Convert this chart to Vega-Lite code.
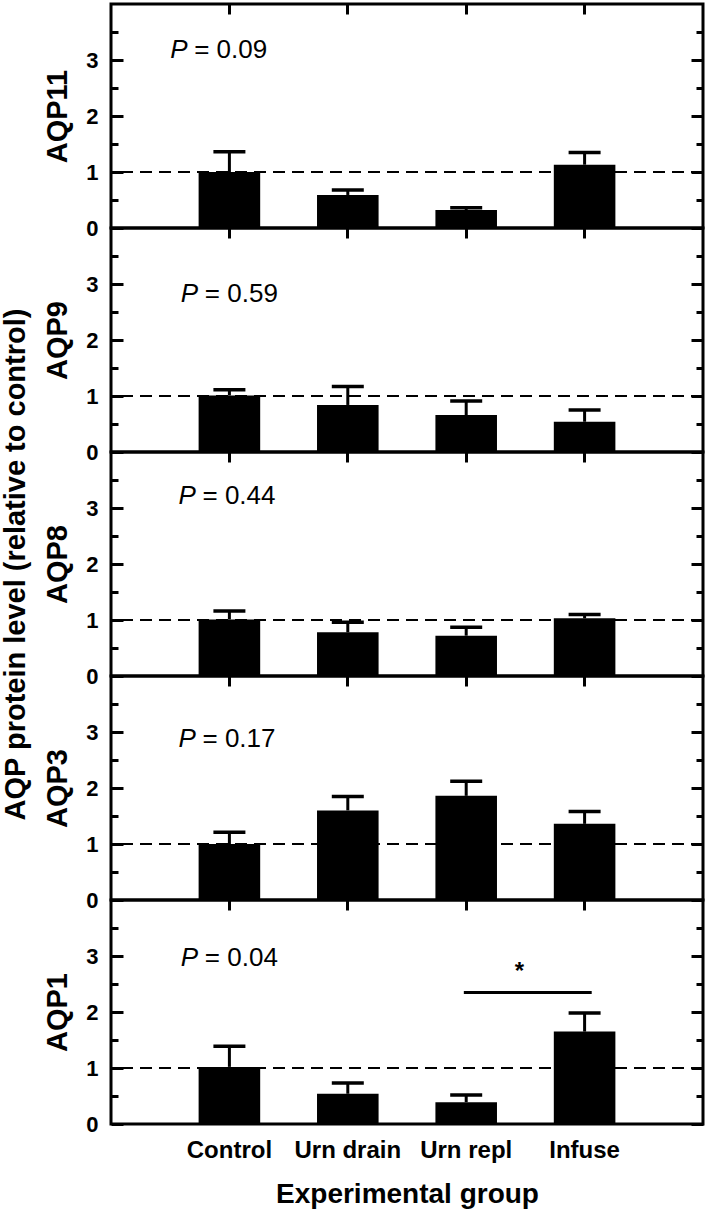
{
  "$schema": "https://vega.github.io/schema/vega-lite/v6.json",
  "padding": {"left": 0, "top": 1, "right": 2, "bottom": 2},
  "background": "white",
  "spacing": 0,
  "bounds": "flush",
  "config": {
    "font": "Liberation Sans",
    "view": {"stroke": "black", "strokeWidth": 3},
    "axis": {"domain": false, "grid": false, "zindex": 1, "labelFont": "Liberation Sans", "titleFont": "Liberation Sans", "labelColor": "black", "titleColor": "black", "tickColor": "black", "tickWidth": 3}
  },
  "datasets": {
    "bars": [
      {"protein": "AQP11", "group": "Control", "mean": 1.00, "upper": 1.36},
      {"protein": "AQP11", "group": "Urn drain", "mean": 0.59, "upper": 0.68},
      {"protein": "AQP11", "group": "Urn repl", "mean": 0.32, "upper": 0.36},
      {"protein": "AQP11", "group": "Infuse", "mean": 1.13, "upper": 1.35},
      {"protein": "AQP9", "group": "Control", "mean": 1.01, "upper": 1.11},
      {"protein": "AQP9", "group": "Urn drain", "mean": 0.84, "upper": 1.17},
      {"protein": "AQP9", "group": "Urn repl", "mean": 0.66, "upper": 0.91},
      {"protein": "AQP9", "group": "Infuse", "mean": 0.54, "upper": 0.75},
      {"protein": "AQP8", "group": "Control", "mean": 1.01, "upper": 1.16},
      {"protein": "AQP8", "group": "Urn drain", "mean": 0.78, "upper": 0.96},
      {"protein": "AQP8", "group": "Urn repl", "mean": 0.72, "upper": 0.87},
      {"protein": "AQP8", "group": "Infuse", "mean": 1.03, "upper": 1.10},
      {"protein": "AQP3", "group": "Control", "mean": 1.00, "upper": 1.21},
      {"protein": "AQP3", "group": "Urn drain", "mean": 1.60, "upper": 1.85},
      {"protein": "AQP3", "group": "Urn repl", "mean": 1.86, "upper": 2.12},
      {"protein": "AQP3", "group": "Infuse", "mean": 1.36, "upper": 1.58},
      {"protein": "AQP1", "group": "Control", "mean": 1.02, "upper": 1.39},
      {"protein": "AQP1", "group": "Urn drain", "mean": 0.54, "upper": 0.73},
      {"protein": "AQP1", "group": "Urn repl", "mean": 0.39, "upper": 0.52},
      {"protein": "AQP1", "group": "Infuse", "mean": 1.65, "upper": 1.98}
    ],
    "pvals": [
      {"protein": "AQP11", "px": 0.50, "py": 3.17, "p": "P", "label": "= 0.09"},
      {"protein": "AQP9", "px": 0.59, "py": 2.82, "p": "P", "label": "= 0.59"},
      {"protein": "AQP8", "px": 0.57, "py": 3.21, "p": "P", "label": "= 0.44"},
      {"protein": "AQP3", "px": 0.57, "py": 2.88, "p": "P", "label": "= 0.17"},
      {"protein": "AQP1", "px": 0.59, "py": 2.96, "p": "P", "label": "= 0.04"}
    ],
    "sig": [
      {"protein": "AQP1", "x1": 2.98, "x2": 4.06, "y": 2.35, "sx": 3.45, "sy": 2.72, "star": "*"}
    ]
  },
  "vconcat": [
    {
      "width": 592, "height": 224,
      "resolve": {"scale": {"x": "independent"}, "axis": {"x": "independent", "y": "independent"}},
      "layer": [
        {"data": {"name": "bars"}, "transform": [{"filter": {"field": "protein", "equal": "AQP11"}}],
         "mark": {"type": "rule", "strokeDash": [12, 7], "strokeWidth": 2, "color": "black"},
         "encoding": {"y": {"datum": 1, "type": "quantitative", "scale": {"domain": [0, 4], "nice": false}, "axis": null}}},
        {"data": {"name": "bars"}, "transform": [{"filter": {"field": "protein", "equal": "AQP11"}}],
         "mark": {"type": "bar", "color": "black"},
         "encoding": {
           "x": {"field": "group", "type": "nominal", "sort": null, "scale": {"domain": ["Control", "Urn drain", "Urn repl", "Infuse"], "paddingInner": 0.48, "paddingOuter": 0.74}, "axis": null},
           "y": {"field": "mean", "type": "quantitative", "scale": {"domain": [0, 4], "nice": false},
                 "axis": {"orient": "left", "title": "AQP11", "titleFontSize": 29, "titleFontWeight": "bold", "titlePadding": 13, "values": [0, 1, 2, 3], "labelFontSize": 22, "labelFontWeight": "bold", "labelPadding": 13, "offset": -12, "tickSize": 12}}}},
        {"data": {"name": "bars"}, "transform": [{"filter": {"field": "protein", "equal": "AQP11"}}],
         "mark": {"type": "rule", "strokeWidth": 3, "color": "black"},
         "encoding": {
           "x": {"field": "group", "type": "nominal", "sort": null, "scale": {"domain": ["Control", "Urn drain", "Urn repl", "Infuse"], "paddingInner": 0.48, "paddingOuter": 0.74}, "axis": {"orient": "top", "labels": false, "title": null, "offset": -10, "tickSize": 10}},
           "y": {"field": "mean", "type": "quantitative", "axis": {"orient": "right", "labels": false, "title": null, "values": [0, 1, 2, 3], "offset": -12, "tickSize": 12}},
           "y2": {"field": "upper"}}},
        {"data": {"name": "bars"}, "transform": [{"filter": {"field": "protein", "equal": "AQP11"}}],
         "mark": {"type": "tick", "thickness": 3.5, "color": "black", "opacity": 1},
         "encoding": {
           "x": {"field": "group", "type": "nominal", "sort": null, "scale": {"domain": ["Control", "Urn drain", "Urn repl", "Infuse"], "paddingInner": 0.48, "paddingOuter": 0.74}, "axis": null},
           "y": {"field": "upper", "type": "quantitative", "axis": {"orient": "left", "labels": false, "title": null, "values": [0.5, 1.5, 2.5, 3.5], "offset": -7, "tickSize": 7}},
           "size": {"value": 32}}},
        {"data": {"name": "pvals"}, "transform": [{"filter": {"field": "protein", "equal": "AQP11"}}],
         "mark": {"type": "text", "align": "left", "baseline": "middle", "fontSize": 26, "fontStyle": "italic", "color": "black"},
         "encoding": {
           "x": {"field": "px", "type": "quantitative", "scale": {"domain": [0, 5], "nice": false, "zero": false}, "axis": null},
           "y": {"field": "py", "type": "quantitative", "axis": {"orient": "right", "labels": false, "title": null, "values": [0.5, 1.5, 2.5, 3.5], "offset": -7, "tickSize": 7}},
           "text": {"field": "p"}}},
        {"data": {"name": "pvals"}, "transform": [{"filter": {"field": "protein", "equal": "AQP11"}}],
         "mark": {"type": "text", "align": "left", "baseline": "middle", "fontSize": 26, "dx": 24, "color": "black"},
         "encoding": {
           "x": {"field": "px", "type": "quantitative", "scale": {"domain": [0, 5], "nice": false, "zero": false}, "axis": null},
           "y": {"field": "py", "type": "quantitative", "axis": null},
           "text": {"field": "label"}}}
      ]
    },
    {
      "width": 592, "height": 224,
      "resolve": {"scale": {"x": "independent"}, "axis": {"x": "independent", "y": "independent"}},
      "layer": [
        {"data": {"name": "bars"}, "transform": [{"filter": {"field": "protein", "equal": "AQP9"}}],
         "mark": {"type": "rule", "strokeDash": [12, 7], "strokeWidth": 2, "color": "black"},
         "encoding": {"y": {"datum": 1, "type": "quantitative", "scale": {"domain": [0, 4], "nice": false}, "axis": null}}},
        {"data": {"name": "bars"}, "transform": [{"filter": {"field": "protein", "equal": "AQP9"}}],
         "mark": {"type": "bar", "color": "black"},
         "encoding": {
           "x": {"field": "group", "type": "nominal", "sort": null, "scale": {"domain": ["Control", "Urn drain", "Urn repl", "Infuse"], "paddingInner": 0.48, "paddingOuter": 0.74}, "axis": null},
           "y": {"field": "mean", "type": "quantitative", "scale": {"domain": [0, 4], "nice": false},
                 "axis": {"orient": "left", "title": "AQP9", "titleFontSize": 29, "titleFontWeight": "bold", "titlePadding": 13, "values": [0, 1, 2, 3], "labelFontSize": 22, "labelFontWeight": "bold", "labelPadding": 13, "offset": -12, "tickSize": 12}}}},
        {"data": {"name": "bars"}, "transform": [{"filter": {"field": "protein", "equal": "AQP9"}}],
         "mark": {"type": "rule", "strokeWidth": 3, "color": "black"},
         "encoding": {
           "x": {"field": "group", "type": "nominal", "sort": null, "scale": {"domain": ["Control", "Urn drain", "Urn repl", "Infuse"], "paddingInner": 0.48, "paddingOuter": 0.74}, "axis": {"orient": "top", "labels": false, "title": null, "offset": -10, "tickSize": 10}},
           "y": {"field": "mean", "type": "quantitative", "axis": {"orient": "right", "labels": false, "title": null, "values": [0, 1, 2, 3], "offset": -12, "tickSize": 12}},
           "y2": {"field": "upper"}}},
        {"data": {"name": "bars"}, "transform": [{"filter": {"field": "protein", "equal": "AQP9"}}],
         "mark": {"type": "tick", "thickness": 3.5, "color": "black", "opacity": 1},
         "encoding": {
           "x": {"field": "group", "type": "nominal", "sort": null, "scale": {"domain": ["Control", "Urn drain", "Urn repl", "Infuse"], "paddingInner": 0.48, "paddingOuter": 0.74}, "axis": null},
           "y": {"field": "upper", "type": "quantitative", "axis": {"orient": "left", "labels": false, "title": null, "values": [0.5, 1.5, 2.5, 3.5], "offset": -7, "tickSize": 7}},
           "size": {"value": 32}}},
        {"data": {"name": "pvals"}, "transform": [{"filter": {"field": "protein", "equal": "AQP9"}}],
         "mark": {"type": "text", "align": "left", "baseline": "middle", "fontSize": 26, "fontStyle": "italic", "color": "black"},
         "encoding": {
           "x": {"field": "px", "type": "quantitative", "scale": {"domain": [0, 5], "nice": false, "zero": false}, "axis": null},
           "y": {"field": "py", "type": "quantitative", "axis": {"orient": "right", "labels": false, "title": null, "values": [0.5, 1.5, 2.5, 3.5], "offset": -7, "tickSize": 7}},
           "text": {"field": "p"}}},
        {"data": {"name": "pvals"}, "transform": [{"filter": {"field": "protein", "equal": "AQP9"}}],
         "mark": {"type": "text", "align": "left", "baseline": "middle", "fontSize": 26, "dx": 24, "color": "black"},
         "encoding": {
           "x": {"field": "px", "type": "quantitative", "scale": {"domain": [0, 5], "nice": false, "zero": false}, "axis": null},
           "y": {"field": "py", "type": "quantitative", "axis": null},
           "text": {"field": "label"}}}
      ]
    },
    {
      "width": 592, "height": 224,
      "resolve": {"scale": {"x": "independent"}, "axis": {"x": "independent", "y": "independent"}},
      "layer": [
        {"data": {"name": "bars"}, "transform": [{"filter": {"field": "protein", "equal": "AQP8"}}],
         "mark": {"type": "rule", "strokeDash": [12, 7], "strokeWidth": 2, "color": "black"},
         "encoding": {"y": {"datum": 1, "type": "quantitative", "scale": {"domain": [0, 4], "nice": false}, "axis": null}}},
        {"data": {"name": "bars"}, "transform": [{"filter": {"field": "protein", "equal": "AQP8"}}],
         "mark": {"type": "bar", "color": "black"},
         "encoding": {
           "x": {"field": "group", "type": "nominal", "sort": null, "scale": {"domain": ["Control", "Urn drain", "Urn repl", "Infuse"], "paddingInner": 0.48, "paddingOuter": 0.74}, "axis": null},
           "y": {"field": "mean", "type": "quantitative", "scale": {"domain": [0, 4], "nice": false},
                 "axis": {"orient": "left", "title": ["AQP protein level (relative to control)", "AQP8"], "titleLineHeight": 42, "titleFontSize": 29, "titleFontWeight": "bold", "titlePadding": 13, "values": [0, 1, 2, 3], "labelFontSize": 22, "labelFontWeight": "bold", "labelPadding": 13, "offset": -12, "tickSize": 12}}}},
        {"data": {"name": "bars"}, "transform": [{"filter": {"field": "protein", "equal": "AQP8"}}],
         "mark": {"type": "rule", "strokeWidth": 3, "color": "black"},
         "encoding": {
           "x": {"field": "group", "type": "nominal", "sort": null, "scale": {"domain": ["Control", "Urn drain", "Urn repl", "Infuse"], "paddingInner": 0.48, "paddingOuter": 0.74}, "axis": {"orient": "top", "labels": false, "title": null, "offset": -10, "tickSize": 10}},
           "y": {"field": "mean", "type": "quantitative", "axis": {"orient": "right", "labels": false, "title": null, "values": [0, 1, 2, 3], "offset": -12, "tickSize": 12}},
           "y2": {"field": "upper"}}},
        {"data": {"name": "bars"}, "transform": [{"filter": {"field": "protein", "equal": "AQP8"}}],
         "mark": {"type": "tick", "thickness": 3.5, "color": "black", "opacity": 1},
         "encoding": {
           "x": {"field": "group", "type": "nominal", "sort": null, "scale": {"domain": ["Control", "Urn drain", "Urn repl", "Infuse"], "paddingInner": 0.48, "paddingOuter": 0.74}, "axis": null},
           "y": {"field": "upper", "type": "quantitative", "axis": {"orient": "left", "labels": false, "title": null, "values": [0.5, 1.5, 2.5, 3.5], "offset": -7, "tickSize": 7}},
           "size": {"value": 32}}},
        {"data": {"name": "pvals"}, "transform": [{"filter": {"field": "protein", "equal": "AQP8"}}],
         "mark": {"type": "text", "align": "left", "baseline": "middle", "fontSize": 26, "fontStyle": "italic", "color": "black"},
         "encoding": {
           "x": {"field": "px", "type": "quantitative", "scale": {"domain": [0, 5], "nice": false, "zero": false}, "axis": null},
           "y": {"field": "py", "type": "quantitative", "axis": {"orient": "right", "labels": false, "title": null, "values": [0.5, 1.5, 2.5, 3.5], "offset": -7, "tickSize": 7}},
           "text": {"field": "p"}}},
        {"data": {"name": "pvals"}, "transform": [{"filter": {"field": "protein", "equal": "AQP8"}}],
         "mark": {"type": "text", "align": "left", "baseline": "middle", "fontSize": 26, "dx": 24, "color": "black"},
         "encoding": {
           "x": {"field": "px", "type": "quantitative", "scale": {"domain": [0, 5], "nice": false, "zero": false}, "axis": null},
           "y": {"field": "py", "type": "quantitative", "axis": null},
           "text": {"field": "label"}}}
      ]
    },
    {
      "width": 592, "height": 224,
      "resolve": {"scale": {"x": "independent"}, "axis": {"x": "independent", "y": "independent"}},
      "layer": [
        {"data": {"name": "bars"}, "transform": [{"filter": {"field": "protein", "equal": "AQP3"}}],
         "mark": {"type": "rule", "strokeDash": [12, 7], "strokeWidth": 2, "color": "black"},
         "encoding": {"y": {"datum": 1, "type": "quantitative", "scale": {"domain": [0, 4], "nice": false}, "axis": null}}},
        {"data": {"name": "bars"}, "transform": [{"filter": {"field": "protein", "equal": "AQP3"}}],
         "mark": {"type": "bar", "color": "black"},
         "encoding": {
           "x": {"field": "group", "type": "nominal", "sort": null, "scale": {"domain": ["Control", "Urn drain", "Urn repl", "Infuse"], "paddingInner": 0.48, "paddingOuter": 0.74}, "axis": null},
           "y": {"field": "mean", "type": "quantitative", "scale": {"domain": [0, 4], "nice": false},
                 "axis": {"orient": "left", "title": "AQP3", "titleFontSize": 29, "titleFontWeight": "bold", "titlePadding": 13, "values": [0, 1, 2, 3], "labelFontSize": 22, "labelFontWeight": "bold", "labelPadding": 13, "offset": -12, "tickSize": 12}}}},
        {"data": {"name": "bars"}, "transform": [{"filter": {"field": "protein", "equal": "AQP3"}}],
         "mark": {"type": "rule", "strokeWidth": 3, "color": "black"},
         "encoding": {
           "x": {"field": "group", "type": "nominal", "sort": null, "scale": {"domain": ["Control", "Urn drain", "Urn repl", "Infuse"], "paddingInner": 0.48, "paddingOuter": 0.74}, "axis": {"orient": "top", "labels": false, "title": null, "offset": -10, "tickSize": 10}},
           "y": {"field": "mean", "type": "quantitative", "axis": {"orient": "right", "labels": false, "title": null, "values": [0, 1, 2, 3], "offset": -12, "tickSize": 12}},
           "y2": {"field": "upper"}}},
        {"data": {"name": "bars"}, "transform": [{"filter": {"field": "protein", "equal": "AQP3"}}],
         "mark": {"type": "tick", "thickness": 3.5, "color": "black", "opacity": 1},
         "encoding": {
           "x": {"field": "group", "type": "nominal", "sort": null, "scale": {"domain": ["Control", "Urn drain", "Urn repl", "Infuse"], "paddingInner": 0.48, "paddingOuter": 0.74}, "axis": null},
           "y": {"field": "upper", "type": "quantitative", "axis": {"orient": "left", "labels": false, "title": null, "values": [0.5, 1.5, 2.5, 3.5], "offset": -7, "tickSize": 7}},
           "size": {"value": 32}}},
        {"data": {"name": "pvals"}, "transform": [{"filter": {"field": "protein", "equal": "AQP3"}}],
         "mark": {"type": "text", "align": "left", "baseline": "middle", "fontSize": 26, "fontStyle": "italic", "color": "black"},
         "encoding": {
           "x": {"field": "px", "type": "quantitative", "scale": {"domain": [0, 5], "nice": false, "zero": false}, "axis": null},
           "y": {"field": "py", "type": "quantitative", "axis": {"orient": "right", "labels": false, "title": null, "values": [0.5, 1.5, 2.5, 3.5], "offset": -7, "tickSize": 7}},
           "text": {"field": "p"}}},
        {"data": {"name": "pvals"}, "transform": [{"filter": {"field": "protein", "equal": "AQP3"}}],
         "mark": {"type": "text", "align": "left", "baseline": "middle", "fontSize": 26, "dx": 24, "color": "black"},
         "encoding": {
           "x": {"field": "px", "type": "quantitative", "scale": {"domain": [0, 5], "nice": false, "zero": false}, "axis": null},
           "y": {"field": "py", "type": "quantitative", "axis": null},
           "text": {"field": "label"}}}
      ]
    },
    {
      "width": 592, "height": 224,
      "resolve": {"scale": {"x": "independent"}, "axis": {"x": "independent", "y": "independent"}},
      "layer": [
        {"data": {"name": "bars"}, "transform": [{"filter": {"field": "protein", "equal": "AQP1"}}],
         "mark": {"type": "rule", "strokeDash": [12, 7], "strokeWidth": 2, "color": "black"},
         "encoding": {"y": {"datum": 1, "type": "quantitative", "scale": {"domain": [0, 4], "nice": false}, "axis": null}}},
        {"data": {"name": "bars"}, "transform": [{"filter": {"field": "protein", "equal": "AQP1"}}],
         "mark": {"type": "bar", "color": "black"},
         "encoding": {
           "x": {"field": "group", "type": "nominal", "sort": null, "scale": {"domain": ["Control", "Urn drain", "Urn repl", "Infuse"], "paddingInner": 0.48, "paddingOuter": 0.74},
                 "axis": {"orient": "bottom", "ticks": false, "labelAngle": 0, "labelFontSize": 24, "labelFontWeight": "bold", "labelPadding": 14, "title": "Experimental group", "titleFontSize": 28, "titleFontWeight": "bold", "titlePadding": 18}},
           "y": {"field": "mean", "type": "quantitative", "scale": {"domain": [0, 4], "nice": false},
                 "axis": {"orient": "left", "title": "AQP1", "titleFontSize": 29, "titleFontWeight": "bold", "titlePadding": 13, "values": [0, 1, 2, 3], "labelFontSize": 22, "labelFontWeight": "bold", "labelPadding": 13, "offset": -12, "tickSize": 12}}}},
        {"data": {"name": "bars"}, "transform": [{"filter": {"field": "protein", "equal": "AQP1"}}],
         "mark": {"type": "rule", "strokeWidth": 3, "color": "black"},
         "encoding": {
           "x": {"field": "group", "type": "nominal", "sort": null, "scale": {"domain": ["Control", "Urn drain", "Urn repl", "Infuse"], "paddingInner": 0.48, "paddingOuter": 0.74}, "axis": {"orient": "top", "labels": false, "title": null, "offset": -10, "tickSize": 10}},
           "y": {"field": "mean", "type": "quantitative", "axis": {"orient": "right", "labels": false, "title": null, "values": [0, 1, 2, 3], "offset": -12, "tickSize": 12}},
           "y2": {"field": "upper"}}},
        {"data": {"name": "bars"}, "transform": [{"filter": {"field": "protein", "equal": "AQP1"}}],
         "mark": {"type": "tick", "thickness": 3.5, "color": "black", "opacity": 1},
         "encoding": {
           "x": {"field": "group", "type": "nominal", "sort": null, "scale": {"domain": ["Control", "Urn drain", "Urn repl", "Infuse"], "paddingInner": 0.48, "paddingOuter": 0.74}, "axis": null},
           "y": {"field": "upper", "type": "quantitative", "axis": {"orient": "left", "labels": false, "title": null, "values": [0.5, 1.5, 2.5, 3.5], "offset": -7, "tickSize": 7}},
           "size": {"value": 32}}},
        {"data": {"name": "pvals"}, "transform": [{"filter": {"field": "protein", "equal": "AQP1"}}],
         "mark": {"type": "text", "align": "left", "baseline": "middle", "fontSize": 26, "fontStyle": "italic", "color": "black"},
         "encoding": {
           "x": {"field": "px", "type": "quantitative", "scale": {"domain": [0, 5], "nice": false, "zero": false}, "axis": null},
           "y": {"field": "py", "type": "quantitative", "axis": {"orient": "right", "labels": false, "title": null, "values": [0.5, 1.5, 2.5, 3.5], "offset": -7, "tickSize": 7}},
           "text": {"field": "p"}}},
        {"data": {"name": "pvals"}, "transform": [{"filter": {"field": "protein", "equal": "AQP1"}}],
         "mark": {"type": "text", "align": "left", "baseline": "middle", "fontSize": 26, "dx": 24, "color": "black"},
         "encoding": {
           "x": {"field": "px", "type": "quantitative", "scale": {"domain": [0, 5], "nice": false, "zero": false}, "axis": null},
           "y": {"field": "py", "type": "quantitative", "axis": null},
           "text": {"field": "label"}}},
        {"data": {"name": "sig"},
         "mark": {"type": "rule", "strokeWidth": 3, "color": "black"},
         "encoding": {
           "x": {"field": "x1", "type": "quantitative", "scale": {"domain": [0, 5], "nice": false, "zero": false}, "axis": null},
           "x2": {"field": "x2"},
           "y": {"field": "y", "type": "quantitative", "axis": null}}},
        {"data": {"name": "sig"},
         "mark": {"type": "text", "align": "center", "baseline": "middle", "fontSize": 24, "fontWeight": "bold", "color": "black"},
         "encoding": {
           "x": {"field": "sx", "type": "quantitative", "scale": {"domain": [0, 5], "nice": false, "zero": false}, "axis": null},
           "y": {"field": "sy", "type": "quantitative", "axis": null},
           "text": {"field": "star"}}}
      ]
    }
  ]
}
